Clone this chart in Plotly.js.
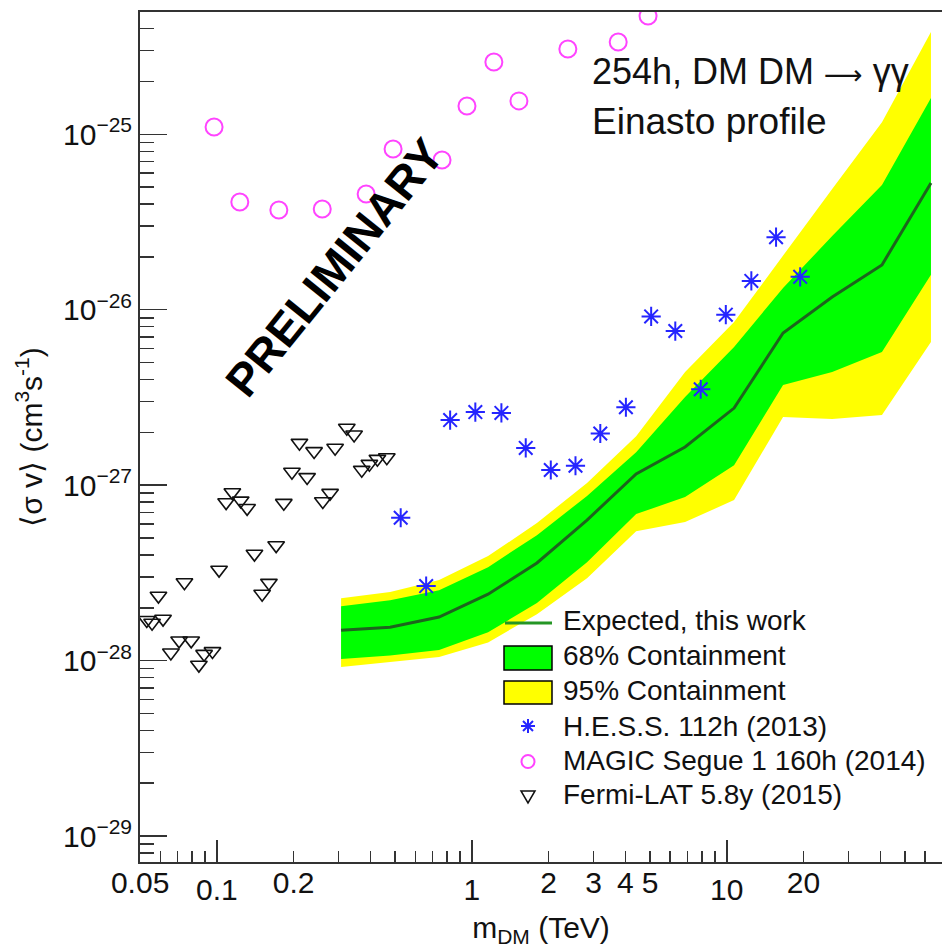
<!DOCTYPE html>
<html><head><meta charset="utf-8">
<script src="https://cdn.plot.ly/plotly-3.0.1.min.js"></script>
<style>html,body{margin:0;padding:0;background:#fff}#chart{width:942px;height:950px}</style>
</head><body><div id="chart"></div>
<script>
// ---- Expected limit and containment bands (this work) ----
const bandMass = [0.307,0.478,0.744,1.158,1.80,2.83,4.41,6.86,10.68,16.62,25.9,40.6,63.2];
const expected = [1.49e-28,1.55e-28,1.77e-28,2.39e-28,3.60e-28,6.32e-28,1.16e-27,1.65e-27,2.75e-27,7.37e-27,1.18e-26,1.80e-26,5.28e-26];
const upper68  = [2.04e-28,2.21e-28,2.52e-28,3.41e-28,5.19e-28,8.67e-28,1.54e-27,3.18e-27,6.13e-27,1.33e-26,2.63e-26,5.14e-26,1.61e-25];
const lower68  = [1.02e-28,1.07e-28,1.15e-28,1.45e-28,2.13e-28,3.64e-28,6.84e-28,8.56e-28,1.30e-27,3.72e-27,4.41e-27,5.74e-27,1.58e-26];
const upper95  = [2.27e-28,2.46e-28,2.88e-28,3.94e-28,6.08e-28,1.03e-27,1.90e-27,4.41e-27,8.51e-27,2.05e-26,4.88e-26,1.17e-25,3.83e-25];
const lower95  = [9.18e-29,9.80e-29,1.05e-28,1.27e-28,1.84e-28,2.95e-28,5.47e-28,6.16e-28,8.22e-28,2.45e-27,2.38e-27,2.51e-27,6.54e-27];

// ---- H.E.S.S. 112h (2013) ----
const hessMass = [0.526,0.662,0.822,1.032,1.306,1.627,2.04,2.55,3.19,4.02,5.05,6.28,7.90,9.91,12.48,15.6,19.4];
const hessSv   = [6.52e-28,2.66e-28,2.35e-27,2.61e-27,2.58e-27,1.63e-27,1.22e-27,1.29e-27,1.97e-27,2.78e-27,9.16e-27,7.56e-27,3.52e-27,9.37e-27,1.46e-26,2.59e-26,1.54e-26];

// ---- MAGIC Segue 1 160h (2014) ----
const magicMass = [0.0975,0.123,0.175,0.259,0.385,0.491,0.764,0.957,1.22,1.53,2.38,3.75,4.91];
const magicSv   = [1.10e-25,4.11e-26,3.70e-26,3.75e-26,4.57e-26,8.24e-26,7.14e-26,1.45e-25,2.58e-25,1.55e-25,3.06e-25,3.36e-25,4.72e-25];

// ---- Fermi-LAT 5.8y (2015) ----
const fermiMass = [0.0531,0.0557,0.0590,0.0615,0.0660,0.0711,0.0746,0.0793,0.0850,0.0891,0.0961,0.102,0.1087,0.115,0.124,0.1314,0.1404,0.1505,0.160,0.1708,0.183,0.197,0.2108,0.2259,0.2406,0.2603,0.278,0.2909,0.3233,0.3453,0.370,0.3964,0.4262,0.4640];
const fermiSv   = [1.70e-28,1.64e-28,2.34e-28,1.73e-28,1.11e-28,1.30e-28,2.79e-28,1.30e-28,9.46e-29,1.09e-28,1.13e-28,3.29e-28,7.98e-28,9.10e-28,8.15e-28,7.40e-28,4.06e-28,2.40e-28,2.77e-28,4.54e-28,7.91e-28,1.19e-27,1.74e-27,1.11e-27,1.56e-27,8.09e-28,9.02e-28,1.63e-27,2.12e-27,1.94e-27,1.22e-27,1.32e-27,1.41e-27,1.44e-27];

// ---- Axis ticks ----
const xMajorVals = [0.1, 1, 10];
const xMajorText = ['0.1', '1', '10'];
const xExtraVals = [0.05, 0.2, 2, 3, 4, 5, 20];
const xExtraText = ['0.05', '0.2', '2', '3', '4', '5', '20'];
const yDecadeVals = [1e-29, 1e-28, 1e-27, 1e-26, 1e-25];
const yDecadeText = ['10<sup>\u221229</sup>', '10<sup>\u221228</sup>', '10<sup>\u221227</sup>', '10<sup>\u221226</sup>', '10<sup>\u221225</sup>'];

// ---- Legend labels ----
const legendNames = ['Expected, this work', '68% Containment', '95% Containment', 'H.E.S.S. 112h (2013)', 'MAGIC Segue 1 160h (2014)', 'Fermi-LAT 5.8y (2015)'];

const COL = {y95: '#ffff00', g68: '#00ff00', line: '#1d651d', legLine: '#259625', hess: '#2525ff', magic: '#ff44ff', fermi: '#111', axis: '#333'};

function minorTicks(decades) {
  const out = [];
  decades.forEach(d => { for (let k = 2; k <= 9; k++) out.push(+(k * d).toPrecision(3)); });
  return out;
}
const xMinorVals = minorTicks([0.01, 0.1, 1, 10]).filter(v => v > 0.05 && v < 72);
const yMinorVals = minorTicks([1e-30, 1e-29, 1e-28, 1e-27, 1e-26, 1e-25]);

const closed = (a, b) => a.concat(b.slice().reverse());

const traces = [
  {x: closed(bandMass, bandMass), y: closed(upper95, lower95), mode: 'lines', fill: 'toself',
   fillcolor: COL.y95, line: {width: 0}, hoverinfo: 'skip'},
  {x: closed(bandMass, bandMass), y: closed(upper68, lower68), mode: 'lines', fill: 'toself',
   fillcolor: COL.g68, line: {width: 0}, hoverinfo: 'skip'},
  {x: bandMass, y: expected, mode: 'lines', line: {color: COL.line, width: 3}},
  {x: hessMass, y: hessSv, mode: 'markers',
   marker: {symbol: 'asterisk-open', size: 16, color: COL.hess, line: {color: COL.hess, width: 2}}},
  {x: magicMass, y: magicSv, mode: 'markers',
   marker: {symbol: 'circle-open', size: 17, color: COL.magic, line: {color: COL.magic, width: 2}}},
  {x: fermiMass, y: fermiSv, mode: 'markers',
   marker: {symbol: 'triangle-down-open', size: 14.5, color: COL.fermi, line: {color: COL.fermi, width: 1.6}}},
  {x: [null], y: [null], xaxis: 'x2', mode: 'markers', hoverinfo: 'skip'}
];

// ---- Plot frame geometry (pixels) and a hand-built legend ----
const M = {l: 140, r: 0, t: 12, b: 88}, W = 942, H = 950;
const PW = W - M.l - M.r, PH = H - M.t - M.b;
const px = x => (x - M.l) / PW;
const py = y => (H - M.b - y) / PH;
const P = (x, y) => px(x).toFixed(5) + ',' + py(y).toFixed(5);

const legX = 528, legText = 561, legRows = [620, 655, 690, 726, 760, 794];
const legShapes = [
  {type: 'line', xref: 'paper', yref: 'paper', x0: px(505), x1: px(552), y0: py(623), y1: py(623),
   line: {color: COL.legLine, width: 3}},
  {type: 'rect', xref: 'paper', yref: 'paper', x0: px(504), x1: px(552), y0: py(646), y1: py(670),
   fillcolor: COL.g68, line: {color: '#000', width: 1.5}},
  {type: 'rect', xref: 'paper', yref: 'paper', x0: px(504), x1: px(552), y0: py(681), y1: py(704),
   fillcolor: COL.y95, line: {color: '#000', width: 1.5}},
  {type: 'path', xref: 'paper', yref: 'paper', line: {color: COL.hess, width: 2},
   path: 'M' + P(legX, legRows[3] - 7) + 'L' + P(legX, legRows[3] + 7) +
         'M' + P(legX - 7, legRows[3]) + 'L' + P(legX + 7, legRows[3]) +
         'M' + P(legX - 5, legRows[3] - 5) + 'L' + P(legX + 5, legRows[3] + 5) +
         'M' + P(legX - 5, legRows[3] + 5) + 'L' + P(legX + 5, legRows[3] - 5)},
  {type: 'circle', xref: 'paper', yref: 'paper', x0: px(legX - 6.5), x1: px(legX + 6.5),
   y0: py(legRows[4] + 1.5 - 6.5), y1: py(legRows[4] + 1.5 + 6.5), line: {color: COL.magic, width: 2}},
  {type: 'path', xref: 'paper', yref: 'paper', line: {color: COL.fermi, width: 1.5},
   path: 'M' + P(legX - 7, legRows[5] - 3) + 'L' + P(legX + 7, legRows[5] - 3) + 'L' + P(legX, legRows[5] + 9) + 'Z'}
];
const legAnn = legendNames.map((t, i) => ({
  xref: 'paper', yref: 'paper', x: px(legText), y: py(legRows[i]), xanchor: 'left', yanchor: 'middle',
  text: t, showarrow: false, font: {size: 28, color: '#111'}
}));

const xRange = [-1.3015, 1.844];
const layout = {
  width: W, height: H, margin: M,
  paper_bgcolor: '#fff', plot_bgcolor: '#fff',
  font: {family: 'Liberation Sans, Arial, sans-serif', color: '#000'},
  showlegend: false,
  xaxis: {
    type: 'log', range: xRange, showline: true, linecolor: COL.axis, linewidth: 2, mirror: true,
    showgrid: false, zeroline: false,
    tickmode: 'array', tickvals: xMajorVals, ticktext: xMajorText,
    ticks: 'inside', ticklen: 22, tickwidth: 1.5, tickcolor: COL.axis,
    tickfont: {size: 30, color: '#111'},
    minor: {tickmode: 'array', tickvals: xMinorVals, ticks: 'inside', ticklen: 11, tickwidth: 1.5, tickcolor: COL.axis, showgrid: false},
    title: {text: 'm<sub>DM</sub> (TeV)', font: {size: 30, color: '#111'}, standoff: 12}
  },
  xaxis2: {
    type: 'log', range: xRange, overlaying: 'x', anchor: 'y', side: 'bottom',
    showline: false, showgrid: false, zeroline: false,
    tickmode: 'array', tickvals: xExtraVals, ticktext: xExtraText,
    ticks: 'inside', ticklen: 0, tickfont: {size: 30, color: '#111'}
  },
  yaxis: {
    type: 'log', range: [-29.148, -24.303], showline: true, linecolor: COL.axis, linewidth: 2, mirror: false,
    showgrid: false, zeroline: false,
    tickmode: 'array', tickvals: yDecadeVals, ticktext: yDecadeText,
    ticks: 'inside', ticklen: 27, tickwidth: 1.5, tickcolor: COL.axis,
    tickfont: {size: 30, color: '#111'},
    minor: {tickmode: 'array', tickvals: yMinorVals, ticks: 'inside', ticklen: 14, tickwidth: 1.5, tickcolor: COL.axis, showgrid: false},
    title: {text: '\u27E8\u03C3 v\u27E9 (cm<sup>3</sup>s<sup>-1</sup>)', font: {size: 30, color: '#111'}, standoff: 12}
  },
  shapes: legShapes,
  annotations: [
    {xref: 'paper', yref: 'paper', x: px(334), y: py(268), xanchor: 'center', yanchor: 'middle',
     text: '<b>PRELIMINARY</b>', showarrow: false, textangle: -51, font: {size: 46, color: '#000'}},
    {xref: 'paper', yref: 'paper', x: px(590), y: py(72), xanchor: 'left', yanchor: 'middle',
     text: '254h, DM DM <span style="font-family:DejaVu Sans;font-size:27px">\u27F6</span> \u03B3\u03B3', showarrow: false, font: {size: 36, color: '#111'}},
    {xref: 'paper', yref: 'paper', x: px(590), y: py(122), xanchor: 'left', yanchor: 'middle',
     text: 'Einasto profile', showarrow: false, font: {size: 37, color: '#111'}}
  ].concat(legAnn)
};

Plotly.newPlot('chart', traces, layout, {staticPlot: true, displayModeBar: false});
</script>
</body></html>
